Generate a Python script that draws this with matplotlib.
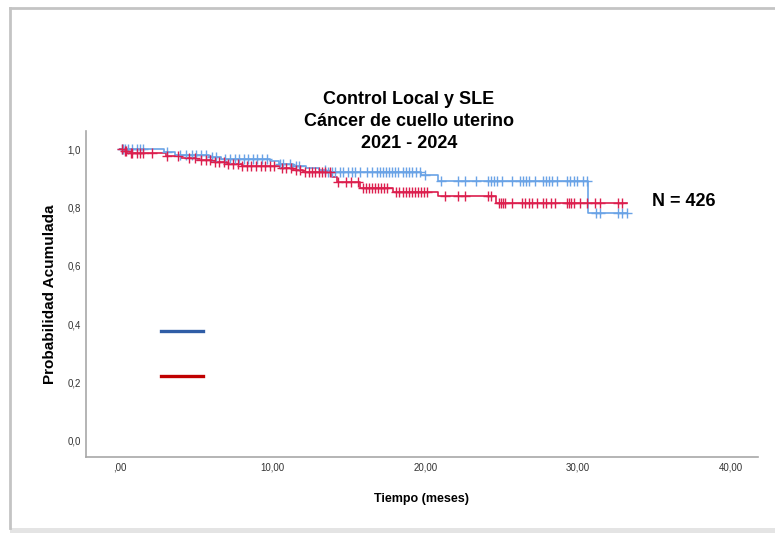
import numpy as np
import matplotlib
matplotlib.use('Agg')
import matplotlib.pyplot as plt
from matplotlib.lines import Line2D
from matplotlib.patches import Rectangle
from matplotlib.ticker import FixedLocator, FuncFormatter

plt.rcParams['font.family'] = ['Liberation Sans', 'DejaVu Sans']

# Curva azul (grupo 1): tiempos de evento y supervivencia acumulada
blue_event_t = [2.9, 3.6, 5.8, 6.6, 9.8, 10.4, 11.3, 12.2, 13.0, 13.5, 19.7, 20.8, 30.65]
blue_event_s = [0.990, 0.980, 0.972, 0.965, 0.958, 0.950, 0.942, 0.934, 0.927, 0.922, 0.911, 0.890, 0.781]
blue_cens = [0.1, 0.2, 0.3, 0.5, 0.8, 1.1, 1.3, 1.5, 3.1, 3.9, 4.3, 4.7, 5.0, 5.3, 5.6, 6.0, 6.3,
             6.9, 7.2, 7.5, 7.8, 8.1, 8.4, 8.7, 9.0, 9.3, 9.6, 10.5, 10.7, 11.1, 11.5, 11.7, 13.4,
             13.6, 13.9, 14.1, 14.4, 14.6, 14.9, 15.2, 15.4, 15.7, 16.2, 16.5, 16.8, 17.0, 17.2,
             17.4, 17.6, 17.8, 18.0, 18.2, 18.5, 18.7, 18.9, 19.1, 19.4, 19.65, 20.0, 21.0, 22.1,
             22.6, 23.3, 24.1, 24.3, 24.5, 24.7, 25.0, 25.7, 26.2, 26.4, 26.6, 26.8, 27.2, 27.7,
             27.9, 28.1, 28.3, 28.6, 29.3, 29.5, 29.7, 29.9, 30.3, 30.56, 31.2, 31.4, 32.6, 32.9, 33.2]
blue_end = 33.2

# Curva roja (grupo 2)
red_event_t = [0.2, 0.5, 3.0, 4.0, 5.0, 6.0, 7.0, 8.0, 10.5, 11.3, 12.0, 13.9, 14.2, 15.7, 17.9, 20.8, 24.6]
red_event_s = [0.993, 0.985, 0.978, 0.970, 0.963, 0.955, 0.948, 0.942, 0.936, 0.930, 0.922, 0.905,
               0.887, 0.866, 0.853, 0.840, 0.815]
red_cens = [0.1, 0.3, 0.4, 0.7, 0.8, 1.1, 1.3, 1.5, 2.1, 3.1, 3.8, 4.5, 4.9, 5.3, 5.6, 5.9, 6.2, 6.5,
            6.8, 7.1, 7.4, 7.7, 8.0, 8.3, 8.6, 8.9, 9.2, 9.5, 9.8, 10.1, 10.6, 10.9, 11.2, 11.5, 11.8,
            12.1, 12.4, 12.6, 12.8, 13.0, 13.2, 13.4, 13.75, 14.3, 14.8, 15.1, 15.6, 15.9, 16.1, 16.3,
            16.5, 16.7, 16.9, 17.1, 17.3, 17.5, 18.1, 18.3, 18.5, 18.7, 18.9, 19.1, 19.3, 19.5, 19.7,
            19.9, 20.1, 21.3, 22.1, 22.6, 24.1, 24.3, 24.8, 24.95, 25.05, 25.2, 25.7, 26.3, 26.5, 26.8,
            27.0, 27.3, 27.7, 27.9, 28.2, 28.5, 29.25, 29.4, 29.55, 29.7, 30.1, 30.56, 31.1, 31.4, 32.6, 32.9]
red_end = 33.2

x_ticks = [0, 10, 20, 30, 40]
y_ticks = [0.0, 0.2, 0.4, 0.6, 0.8, 1.0]

title_lines = ['Control Local y SLE', 'Cáncer de cuello uterino', '2021 - 2024']


def surv_at(times, ev_t, ev_s):
    ev_t = np.asarray(ev_t)
    s = np.r_[1.0, ev_s]
    return s[np.searchsorted(ev_t, times, side='right')]


def draw_km(ax, ev_t, ev_s, cens, end, color):
    xs = np.r_[0, ev_t, end]
    ys = np.r_[1.0, ev_s, ev_s[-1]]
    ax.step(xs, ys, where='post', color=color, lw=1.2, zorder=3)
    ax.plot(cens, surv_at(cens, ev_t, ev_s), ls='none', marker='+', ms=7,
            mew=1.0, color=color, zorder=4)


fig = plt.figure(figsize=(7.75, 5.33), dpi=100)
W, H = 775, 533

# marco tipo captura de pantalla
fig.add_artist(Rectangle((10 / W, 0), 1, 5 / H, transform=fig.transFigure,
                         facecolor='#e4e4e4', edgecolor='none'))
fig.add_artist(Line2D([10 / W, 10 / W], [5 / H, 1 - 8 / H], transform=fig.transFigure,
                      color='#c4c4c4', lw=2))
fig.add_artist(Line2D([10 / W, 1], [1 - 8 / H, 1 - 8 / H], transform=fig.transFigure,
                      color='#c4c4c4', lw=2))

ax = fig.add_axes([86 / W, 1 - 457 / H, (758 - 86) / W, (457 - 131) / H])

draw_km(ax, blue_event_t, blue_event_s, blue_cens, blue_end, '#6aa3e6')
draw_km(ax, red_event_t, red_event_s, red_cens, red_end, '#dc1f4e')

# lineas de leyenda sin texto
ax.plot([0.112, 0.174], [0.387, 0.387], transform=ax.transAxes, color='#2f5da6', lw=2.4)
ax.plot([0.112, 0.174], [0.248, 0.248], transform=ax.transAxes, color='#c00000', lw=2.4)

ax.set_xlim(-2.23, 41.78)
ax.set_ylim(-0.055, 1.062)
ax.xaxis.set_major_locator(FixedLocator(x_ticks))
ax.yaxis.set_major_locator(FixedLocator(y_ticks))
ax.xaxis.set_major_formatter(FuncFormatter(lambda v, p: ',00' if v == 0 else f'{v:.2f}'.replace('.', ',')))
ax.yaxis.set_major_formatter(FuncFormatter(lambda v, p: f'{v:.1f}'.replace('.', ',')))
ax.tick_params(length=0, labelsize=7, labelcolor='#333333')
ax.tick_params(axis='x', pad=4)
ax.tick_params(axis='y', pad=3.5)

for side in ['top', 'right']:
    ax.spines[side].set_visible(False)
for side in ['left', 'bottom']:
    ax.spines[side].set_color('#a8a8a8')
    ax.spines[side].set_linewidth(1.2)

ax.set_xlabel('Tiempo (meses)', fontsize=9, fontweight='bold', labelpad=15)
ax.set_ylabel('Probabilidad Acumulada', fontsize=11, fontweight='bold', labelpad=7.5)

for i, line in enumerate(title_lines):
    fig.text(409 / W, 1 - (100 + 21.5 * i) / H, line, ha='center', va='center',
             fontsize=13, fontweight='bold')

fig.text(684 / W, 1 - 202 / H, 'N = 426', ha='center', va='center', fontsize=13, fontweight='bold')

fig.savefig('out.png', dpi=100, facecolor='white')
